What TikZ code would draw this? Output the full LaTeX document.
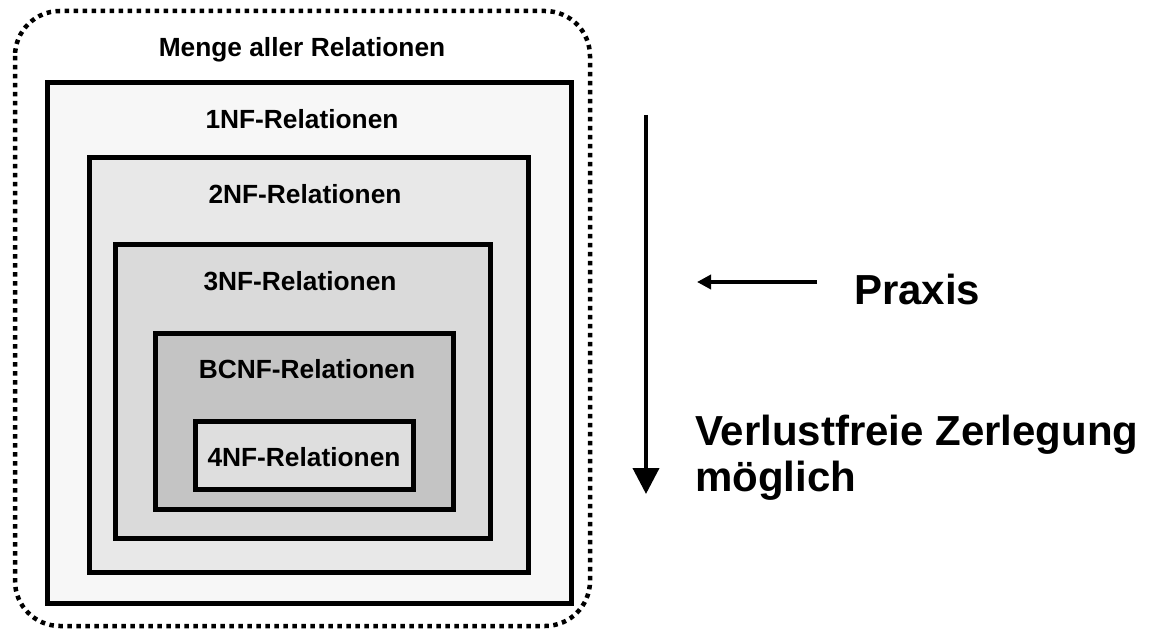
\documentclass[tikz,border=0pt]{standalone}
\usepackage{fontspec}
\setmainfont{Liberation Sans}
\usetikzlibrary{arrows.meta}
\begin{document}
\begin{tikzpicture}[x=1pt,y=-1pt,
  box/.style={draw=black,line width=5pt,inner sep=0pt},
  lbl/.style={font=\bfseries\fontsize{26.3}{30}\selectfont,inner sep=0pt,anchor=base},
  big/.style={font=\bfseries\fontsize{42}{46}\selectfont,inner sep=0pt}]
\useasboundingbox (0,0) rectangle (1151,631);
\draw[line width=4.5pt,dash pattern=on 4.5pt off 4.5pt,rounded corners=45pt] (15,11) rectangle (590,626);
\node[lbl] (menge) at (302,57) {Menge aller Relationen};
\draw[box,fill={rgb,255:red,247;green,247;blue,247}] (47,83) rectangle (571,603);
\node[lbl] (nf1) at (302,129) {1NF-Relationen};
\draw[box,fill={rgb,255:red,232;green,232;blue,232}] (89,158) rectangle (528,572);
\node[lbl] (nf2) at (305,204) {2NF-Relationen};
\draw[box,fill={rgb,255:red,218;green,218;blue,218}] (115,244) rectangle (490,538);
\node[lbl] (nf3) at (300,290) {3NF-Relationen};
\draw[box,fill={rgb,255:red,196;green,196;blue,196}] (155,333) rectangle (453,509);
\node[lbl] (bcnf) at (307,378) {BCNF-Relationen};
\draw[box,fill={rgb,255:red,222;green,222;blue,222}] (195,421) rectangle (413,489);
\node[lbl] (nf4) at (304,466) {4NF-Relationen};
\coordinate (vtop) at (646,115);
\coordinate (vbot) at (646,494);
\draw[line width=4pt,-{Triangle[length=26pt,width=26pt]}] (vtop) -- (vbot);
\node[big,anchor=base west] (praxis) at (854,304) {Praxis};
\coordinate (pstart) at (817,282);
\coordinate (pend) at (697,282);
\draw[line width=4pt,-{Triangle[length=14pt,width=14pt]}] (pstart) -- (pend);
\node[big,anchor=base west,align=left] (verl) at (695,491) {Verlustfreie Zerlegung\\möglich};
\end{tikzpicture}
\end{document}
